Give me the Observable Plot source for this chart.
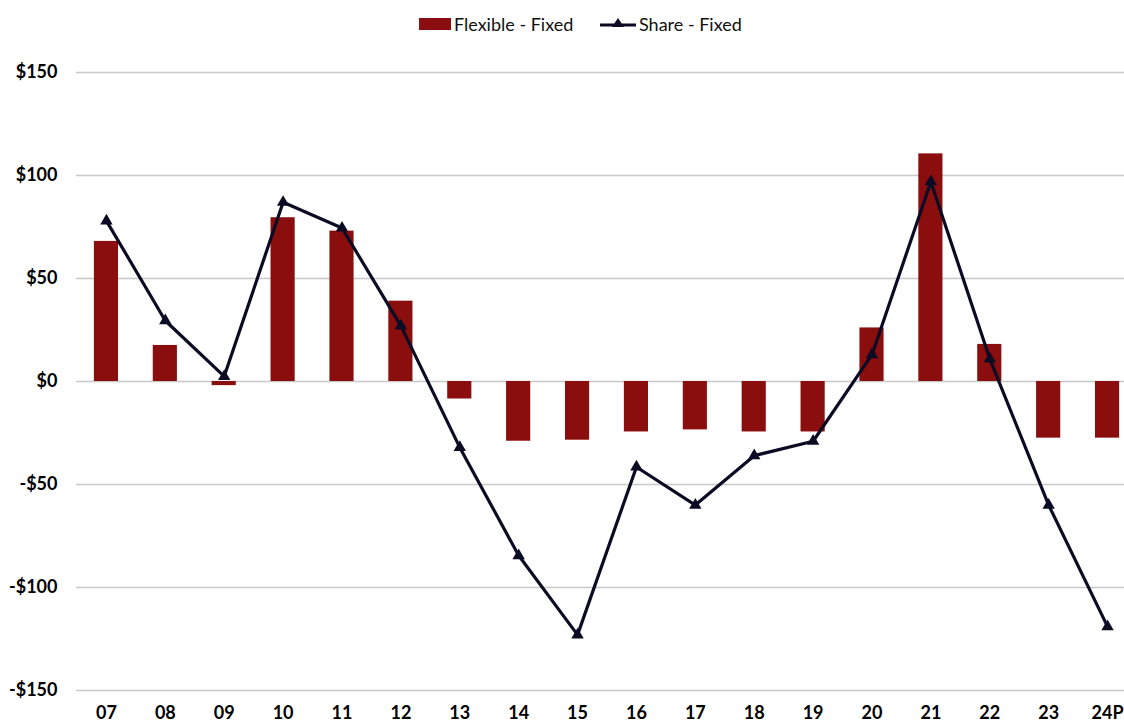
<!DOCTYPE html>
<html>
<head>
<meta charset="utf-8">
<script src="https://cdn.jsdelivr.net/npm/d3@7"></script>
<script src="https://cdn.jsdelivr.net/npm/@observablehq/plot@0.6"></script>
<style>
  html, body { margin: 0; padding: 0; background: #fff; overflow: hidden; width: 1124px; height: 724px; }
  body { font-family: Lato, "Open Sans", sans-serif; position: relative; }
  #chart { position: absolute; top: 0; left: 0; width: 1124px; height: 724px; overflow: hidden; }
  #legend { position: absolute; top: 0; left: 0; width: 1124px; height: 48px; z-index: 2; }
  .item { position: absolute; top: 14px; display: flex; align-items: center; font-size: 18px; color: #111; height: 20px; }
  .item svg { display: block; margin-right: 3px; }
</style>
</head>
<body>
<div id="chart"></div>
<div id="legend">
  <div class="item" style="left:419px">
    <svg width="32" height="12"><rect width="32" height="12" fill="#8b0e0e"></rect></svg>
    <span>Flexible - Fixed</span>
  </div>
  <div class="item" style="left:600px">
    <svg width="36" height="14"><line x1="0" x2="36" y1="8" y2="8" stroke="#0b0b24" stroke-width="3"></line><path d="M18,1 L24,10 L12,10 Z" fill="#0b0b24"></path></svg>
    <span>Share - Fixed</span>
  </div>
</div>
<script>
const years = ["07","08","09","10","11","12","13","14","15","16","17","18","19","20","21","22","23","24P"];
const flexibleFixed = [68, 17.5, -2, 79.5, 73, 39, -8.5, -29, -28.5, -24.5, -23.5, -24.5, -24.5, 26, 110.5, 18, -27.5, -27.5];
const shareFixed = [78, 29.5, 2.5, 87, 74.5, 27, -32, -84.5, -123, -41.5, -60, -36, -29, 13, 97, 11, -60, -119];
const yTicks = [-150, -100, -50, 0, 50, 100, 150];

const data = years.map((y, i) => ({year: y, flex: flexibleFixed[i], share: shareFixed[i]}));
const fmt = d => (d < 0 ? "-" : "") + "$" + Math.abs(d);

const chart = Plot.plot({
  width: 1124,
  height: 724,
  marginTop: 72,
  marginBottom: 34,
  marginLeft: 76,
  marginRight: 0,
  style: {fontFamily: "Lato, 'Open Sans', sans-serif", fontSize: "18px", color: "#000", background: "#fff"},
  x: {domain: years, range: [76.5, 1136.5], paddingInner: 0.59, paddingOuter: 0.295, round: false, label: null},
  y: {domain: [-150, 150], label: null},
  marks: [
    Plot.gridY(yTicks, {stroke: "#c8c8c8", strokeOpacity: 1, strokeWidth: 1.4}),
    Plot.barY(data, {x: "year", y: "flex", fill: "#8b0e0e"}),
    Plot.lineY(data, {x: "year", y: "share", stroke: "#0b0b24", strokeWidth: 3.2}),
    Plot.dot(data, {x: "year", y: "share", symbol: "triangle", r: 4.6, fill: "#0b0b24"}),
    Plot.axisX({tickSize: 0, tickPadding: 16, fontWeight: "bold", fontSize: 18, label: null}),
    Plot.axisY({ticks: yTicks, tickFormat: fmt, tickSize: 0, tickPadding: 19, fontWeight: "bold", fontSize: 18, label: null})
  ]
});
document.getElementById("chart").appendChild(chart);
</script>
</body>
</html>
